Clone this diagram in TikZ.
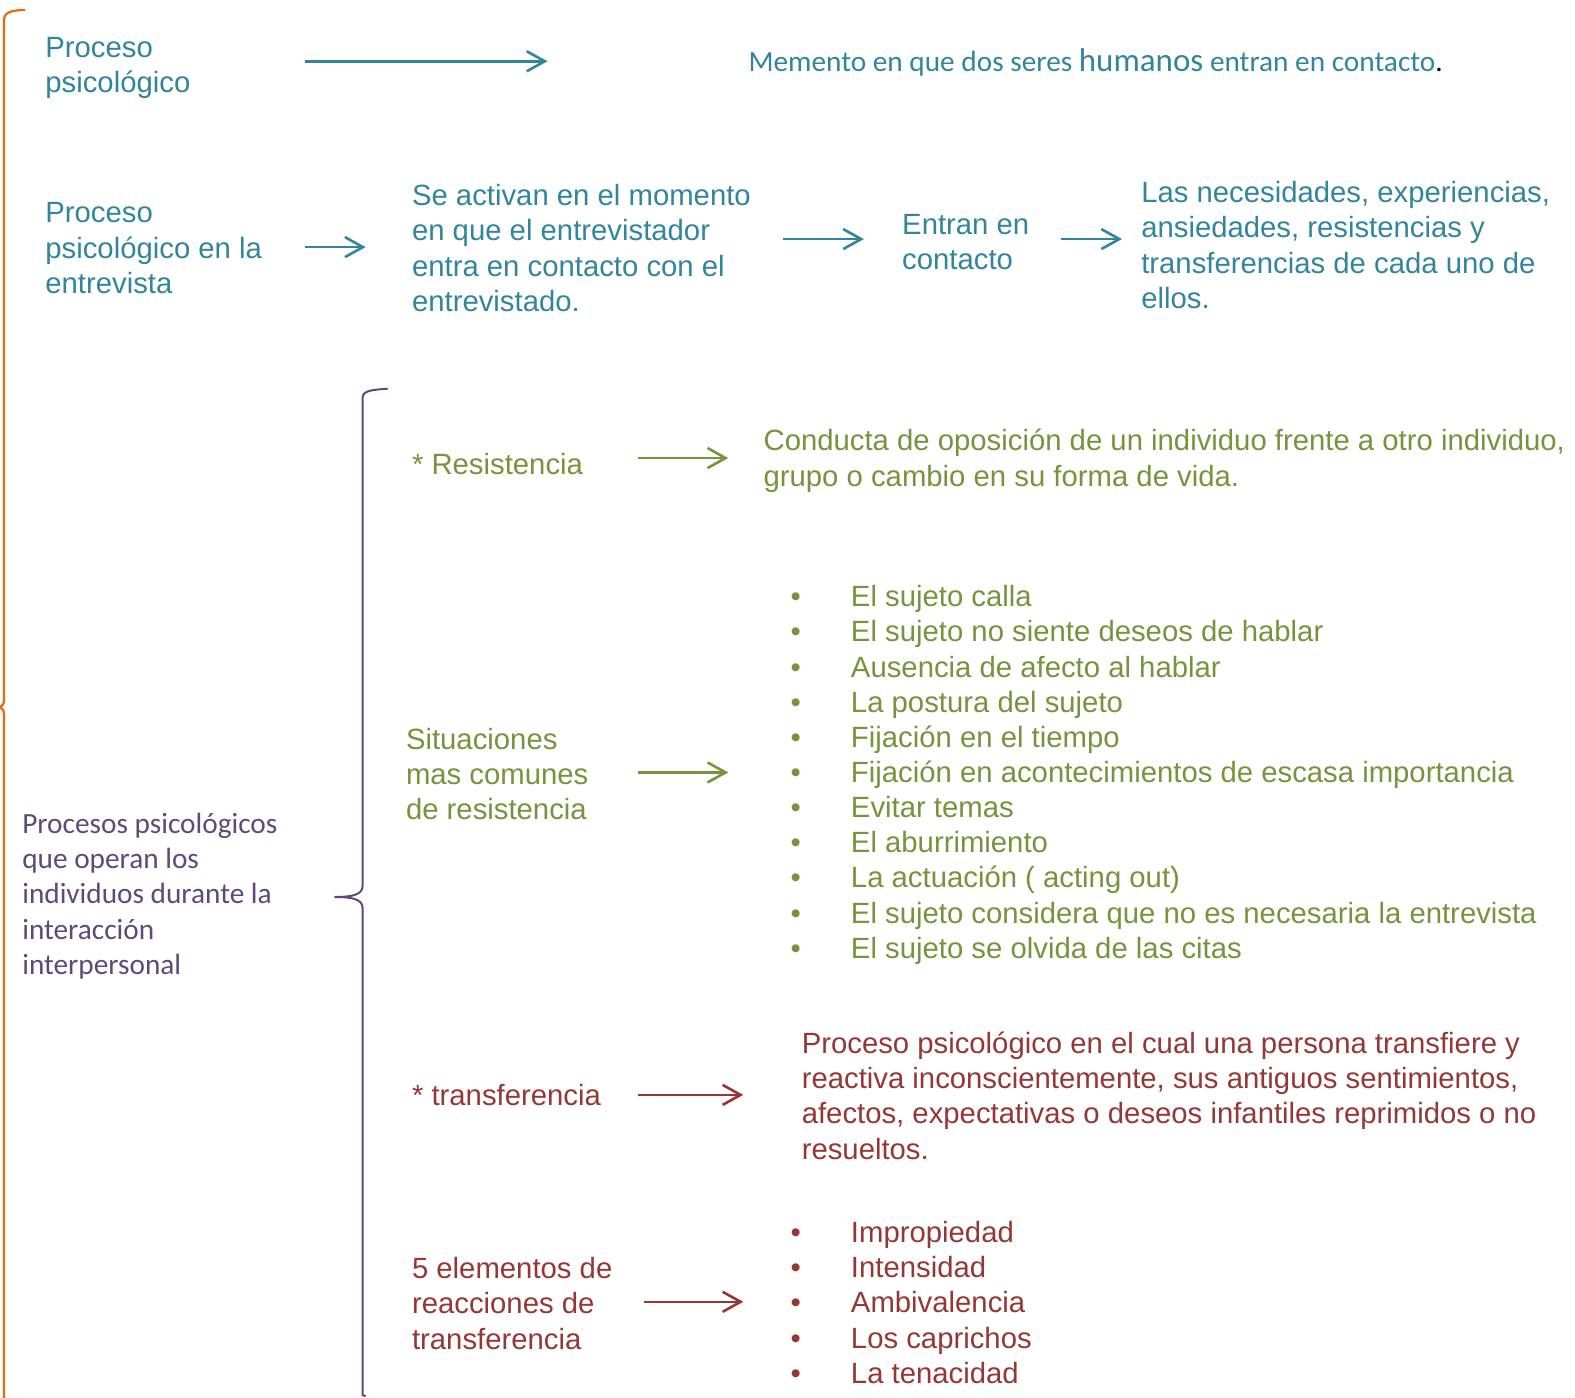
\documentclass[tikz,border=0pt]{standalone}
\usepackage{fontspec}
\setmainfont{Liberation Sans}
\newfontfamily\calibri{Carlito}
\usetikzlibrary{arrows.meta}
\definecolor{tealblue}{RGB}{49,133,156}
\definecolor{olivegreen}{RGB}{119,147,60}
\definecolor{brickred}{RGB}{149,55,53}
\definecolor{plum}{RGB}{95,73,122}
\definecolor{pumpkin}{RGB}{228,108,10}

\begin{document}
\begin{tikzpicture}[x=1.0045pt,y=-1.0045pt,
    txt/.style={anchor=base west,inner sep=0pt,align=left,
                font=\fontsize{29.3}{35.2}\selectfont},
    cal/.style={anchor=base west,inner sep=0pt,align=left,
                font=\calibri\fontsize{29.3}{35.2}\selectfont},
    arr/.style={-{Straight Barb[length=18pt,width=20pt]},line width=2.6pt}]

\useasboundingbox (0,0) rectangle (1568,1391);

% braces
\draw [line width=2.2pt,pumpkin] (25,10) .. controls (12,10) and (4,12) .. (4,20)
      -- (4,693) .. controls (4,701) .. (0,704) .. controls (4,707) .. (4,715)
      -- (4,1400);
\draw [line width=2pt,plum] (386,387) .. controls (370,388) and (361,389) .. (361,396)
      -- (361,882) .. controls (361,891) and (350,893) .. (333,893)
      .. controls (350,893) and (361,895) .. (361,904)
      -- (361,1389) -- (364,1390);

% first row (nodes sit on their last line)
\node [txt,tealblue] (proc) at (45,92) {Proceso\\psicológico};
\node [cal,tealblue] (moment) at (745,71)
      {Memento en que dos seres
       {\fontsize{33}{35}\selectfont humanos} entran en contacto\textcolor{black}{.}};

% second row
\node [txt,tealblue] (procent) at (45,292) {Proceso\\psicológico en la\\entrevista};
\node [txt,tealblue] (activan) at (410,310)
      {Se activan en el momento\\en que el entrevistador\\entra en contacto con el\\entrevistado.};
\node [txt,tealblue] (entran) at (898,268) {Entran en\\contacto};
\node [txt,tealblue] (necesid) at (1136,307)
      {Las necesidades, experiencias,\\ansiedades, resistencias y\\transferencias de cada uno de\\ellos.};

% left label
\node [cal,plum] (procesos) at (22,970)
      {Procesos psicológicos\\que operan los\\individuos durante la\\interacción\\interpersonal};

% resistencia
\node [txt,olivegreen] (resist) at (410,472) {* Resistencia};
\node [txt,olivegreen] (conducta) at (760,484)
      {Conducta de oposición de un individuo frente a otro individuo,\\grupo o cambio en su forma de vida.};
\node [txt,olivegreen] (situac) at (404,816) {Situaciones\\mas comunes\\de resistencia};
\foreach \item [count=\i] in {El sujeto calla,El sujeto no siente deseos de hablar,
    Ausencia de afecto al hablar,La postura del sujeto,Fijación en el tiempo,
    Fijación en acontecimientos de escasa importancia,Evitar temas,El aburrimiento,
    La actuación ( acting out),El sujeto considera que no es necesaria la entrevista,
    El sujeto se olvida de las citas}
{
  \node [txt,olivegreen] (sitdot\i) at (787,569+35*\i) {\textbullet};
  \node [txt,olivegreen] (sit\i) at (847,569+35*\i) {\item};
}

% transferencia
\node [txt,brickred] (transf) at (410,1101) {* transferencia};
\node [txt,brickred] (procpsi) at (798,1154)
      {Proceso psicológico en el cual una persona transfiere y\\reactiva inconscientemente, sus antiguos sentimientos,\\afectos, expectativas o deseos infantiles reprimidos o no\\resueltos.};
\node [txt,brickred] (cinco) at (410,1343) {5 elementos de\\reacciones de\\transferencia};
\foreach \item [count=\i] in {Impropiedad,Intensidad,Ambivalencia,Los caprichos,La tenacidad}
{
  \node [txt,brickred] (eldot\i) at (787,1202+35*\i) {\textbullet};
  \node [txt,brickred] (el\i) at (847,1202+35*\i) {\item};
}

% arrows
\coordinate (a1) at (304,61);   \coordinate (b1) at (545,61);
\coordinate (a2) at (304,246);  \coordinate (b2) at (364,246);
\coordinate (a3) at (780,238);  \coordinate (b3) at (860,238);
\coordinate (a4) at (1056,238); \coordinate (b4) at (1117,238);
\coordinate (a5) at (635,456);  \coordinate (b5) at (725,456);
\coordinate (a6) at (635,769);  \coordinate (b6) at (725,769);
\coordinate (a7) at (635,1090); \coordinate (b7) at (740,1090);
\coordinate (a8) at (641,1296); \coordinate (b8) at (740,1296);
\foreach \s/\c in {1/tealblue,2/tealblue,3/tealblue,4/tealblue,
                   5/olivegreen,6/olivegreen,7/brickred,8/brickred}
  \draw [arr,\c] (a\s) -- (b\s);

\end{tikzpicture}
\end{document}
